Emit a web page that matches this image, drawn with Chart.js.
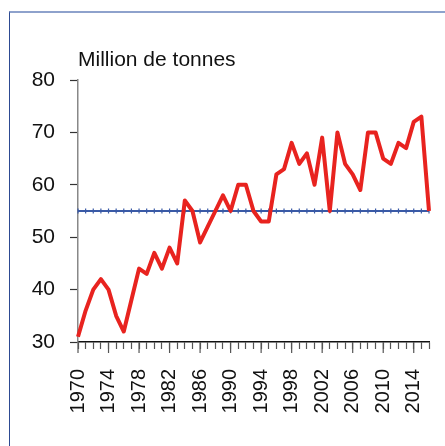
<!DOCTYPE html>
<html lang="fr">
<head>
<meta charset="UTF-8">
<title>Million de tonnes</title>
<script src="https://cdn.jsdelivr.net/npm/chart.js"></script>
<style>
    html,body{
        margin:0;
        padding:0;
        background:#fff;
    }
    #box{
        position:relative;
        width:445px;
        height:446px;
        overflow:hidden;
    }
    #frame{
        position:absolute;
        left:9px;
        top:11px;
        width:440px;
        height:440px;
        border-left:1.5px solid #2d4a92;
        border-top:2px solid #8ea2cc;
    }
    #chart{
        position:absolute;
        left:0;
        top:0;
    }
</style>
</head>
<body>
<div id="box">
    <div id="frame"></div>
    <canvas id="chart" width="445" height="446"></canvas>
</div>
<script>
// years 1970 - 2016
const years=[]
for(let y=1970;y<=2016;y++){years.push(y)}

const production=[31,36,40,42,40,35,32,38,44,43,
                  47,44,48,45,57,55,49,52,55,58,
                  55,60,60,55,53,53,62,63,68,64,
                  66,60,69,55,70,64,62,59,70,70,
                  65,64,68,67,72,73,55]
const moyenne=years.map(()=>55)
const yTicks=[30,40,50,60,70,80]
const unitLabel="Million de tonnes"

const fontFamily="'Liberation Sans', Arial, sans-serif"

// longer ticks under the labelled years + unit title
const extras={
    id:"extras",
    afterDraw(chart){
        const ctx=chart.ctx
        const x=chart.scales.x
        const area=chart.chartArea
        ctx.save()
        ctx.strokeStyle="#555"
        ctx.lineWidth=1.2
        years.forEach((yr,i)=>{
            if((yr-1970)%4===0){
                const px=x.getPixelForTick(i)
                ctx.beginPath()
                ctx.moveTo(px,area.bottom)
                ctx.lineTo(px,area.bottom+11)
                ctx.stroke()
            }
        })
        ctx.fillStyle="#111"
        ctx.font="21px "+fontFamily
        ctx.textAlign="left"
        ctx.textBaseline="alphabetic"
        ctx.fillText(unitLabel,area.left,area.top-14)
        ctx.restore()
    }
}

new Chart(document.getElementById("chart"),{
    type:"line",
    data:{
        labels:years,
        datasets:[
            {
                label:"Production",
                data:production,
                borderColor:"#e8231f",
                borderWidth:4,
                pointRadius:0,
                tension:0,
                borderJoinStyle:"round",
                fill:false
            },
            {
                label:"Moyenne",
                data:moyenne,
                borderColor:"#3a5aa6",
                borderWidth:2,
                pointStyle:"line",
                pointRotation:90,
                pointRadius:2.5,
                pointBorderWidth:1.2,
                pointBorderColor:"#3a5aa6",
                tension:0,
                fill:false
            }
        ]
    },
    plugins:[extras],
    options:{
        responsive:false,
        animation:false,
        events:[],
        layout:{padding:{top:80,right:16,left:0,bottom:0}},
        plugins:{
            legend:{display:false},
            tooltip:{enabled:false}
        },
        scales:{
            x:{
                offset:false,
                afterFit(scale){
                    scale.height=104
                    scale.paddingLeft=0
                    scale.paddingRight=0
                },
                border:{color:"#111",width:1.5},
                grid:{drawOnChartArea:false,tickLength:7,tickColor:"#555",tickWidth:1.2},
                ticks:{
                    autoSkip:false,
                    maxRotation:90,
                    minRotation:90,
                    padding:20,
                    color:"#111",
                    font:{family:fontFamily,size:20},
                    callback(val,i){
                        const yr=years[i]
                        return (yr-1970)%4===0 ? String(yr) : ""
                    }
                }
            },
            y:{
                min:30,
                max:80,
                afterFit(scale){scale.width=78},
                afterBuildTicks(scale){scale.ticks=yTicks.map(v=>({value:v}))},
                border:{color:"#888",width:1.5},
                grid:{drawOnChartArea:false,tickLength:8,tickColor:"#333",tickWidth:1.2},
                ticks:{
                    padding:15,
                    color:"#111",
                    font:{family:fontFamily,size:21}
                }
            }
        }
    }
})
</script>
</body>
</html>
